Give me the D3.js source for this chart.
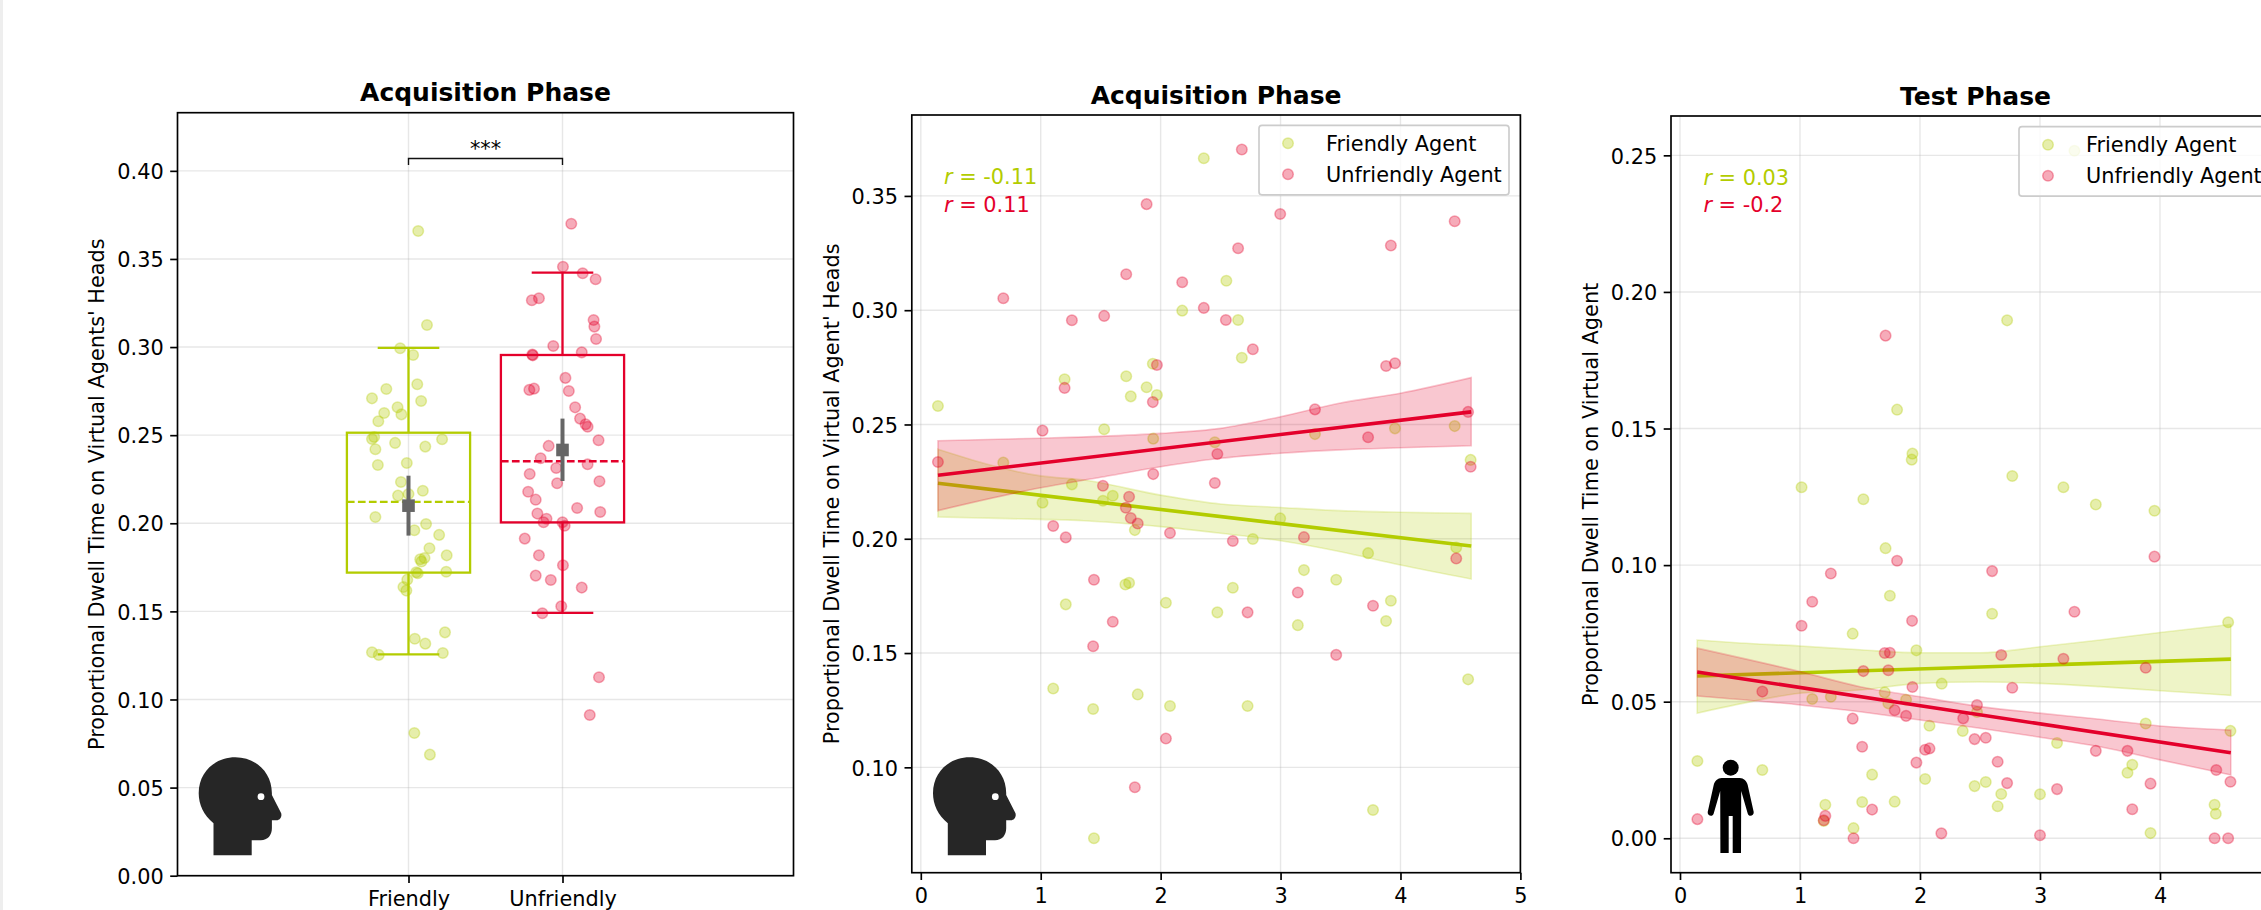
<!DOCTYPE html>
<html>
<head>
<meta charset="utf-8">
<script src="https://cdnjs.cloudflare.com/ajax/libs/d3/7.8.5/d3.min.js"></script>
<style>
html, body { margin: 0; padding: 0; background: #fff; overflow: hidden; }
svg text { font-family: "DejaVu Sans", sans-serif; fill: #000; }
</style>
</head>
<body>
<div id="chart"></div>
<script>
// box panel: [jitter, value]
const boxFriendly = [[.063,.3659],[.12,.3125],[-.054,.2993],[.03,.2955],[.057,.2789],[-.144,.2762],[-.237,.2709],[.082,.2694],[-.071,.2658],[-.158,.2626],[-.046,.2618],[-.196,.2579],[-.223,.249],[-.237,.2478],[-.087,.2456],[.218,.2477],[.109,.2435],[-.215,.242],[-.011,.2342],[-.199,.2331],[-.049,.2234],[.093,.2185],[0,.2166],[-.068,.2157],[-.215,.2036],[.114,.1996],[.038,.196],[.199,.1934],[.136,.1858],[.248,.1818],[.104,.1803],[.076,.1796],[.084,.1783],[.245,.1725],[.06,.1716],[.05,.1722],[-.008,.168],[-.033,.1638],[-.014,.1618],[.237,.1381],[.041,.1345],[.109,.1317],[-.237,.1268],[-.193,.1253],[.223,.1264],[.038,.081],[.139,.0687]];
const boxUnfriendly = [[.057,.37],[.003,.3456],[.131,.3419],[.215,.3385],[-.153,.3277],[-.199,.3266],[.202,.3154],[.207,.3116],[.218,.3046],[-.06,.3006],[.125,.297],[-.196,.2957],[-.193,.2953],[.019,.2825],[-.185,.2764],[-.215,.2757],[.041,.2751],[.082,.2658],[.114,.2594],[.15,.2562],[.163,.2548],[.234,.2471],[-.09,.2439],[-.142,.2369],[.163,.2335],[-.041,.2314],[-.213,.228],[.24,.2238],[-.035,.2227],[-.223,.2179],[-.174,.2134],[.095,.2087],[.245,.2064],[-.163,.2055],[-.104,.2026],[-.123,.2006],[0,.2006],[.014,.1986],[-.245,.1913],[-.153,.1818],[.003,.1762],[-.174,.1703],[-.076,.1678],[.125,.1635],[-.008,.1529],[-.131,.1489],[.237,.1126],[.177,.0912]];
const categories = ["Friendly", "Unfriendly"];
// q1, median, q3, whiskers, mean with its error bar
const boxStats = [
  { q1: .172, med: .2121, q3: .2514, lo: .1256, hi: .2995, mean: .21, meanLo: .193, meanHi: .227 },
  { q1: .2005, med: .2352, q3: .2955, lo: .1491, hi: .3422, mean: .2416, meanLo: .224, meanHi: .2594 }
];
const boxTicks = [0, .05, .1, .15, .2, .25, .3, .35, .4];

// acquisition scatter
const acqFriendly = [[2.36,.3665],[2.548,.3129],[2.18,.2998],[2.646,.2957],[2.677,.2792],[1.935,.2766],[1.713,.2711],[1.199,.2698],[1.883,.2663],[1.969,.2629],[1.751,.2623],[.143,.2581],[1.529,.2479],[3.954,.2483],[4.452,.2493],[1.938,.2438],[3.287,.2458],[2.452,.2422],[4.585,.2345],[.688,.2333],[1.26,.2238],[1.601,.2188],[1.519,.2166],[1.015,.2158],[2.997,.2089],[1.785,.2038],[2.769,.1999],[4.465,.1962],[3.73,.1937],[3.195,.1863],[3.464,.1821],[1.737,.1807],[1.706,.18],[2.602,.1786],[3.92,.1729],[2.044,.172],[1.209,.1713],[2.473,.1678],[3.88,.164],[3.144,.1622],[4.564,.1385],[1.104,.1345],[1.809,.1319],[2.078,.1268],[2.725,.1268],[1.437,.1255],[3.771,.0813],[1.444,.069]];
const acqUnfriendly = [[2.677,.3703],[1.883,.3464],[2.997,.3421],[4.452,.3389],[3.92,.3283],[2.646,.3271],[1.713,.3157],[2.18,.3122],[.688,.3052],[2.36,.301],[1.529,.2975],[1.26,.2956],[2.544,.2957],[2.769,.2829],[3.954,.2768],[3.88,.2756],[1.969,.276],[1.199,.266],[1.935,.2598],[3.287,.2566],[4.564,.2555],[1.015,.2473],[3.73,.2444],[2.473,.2371],[4.585,.2315],[.143,.2336],[1.938,.2283],[2.452,.2244],[1.519,.2232],[1.737,.2184],[1.71,.2136],[1.751,.2091],[1.809,.2067],[1.104,.2056],[2.078,.2025],[1.209,.2006],[2.602,.199],[3.195,.2007],[4.465,.1914],[1.444,.1821],[3.144,.1765],[3.771,.1707],[2.725,.1678],[1.601,.1637],[1.437,.153],[3.464,.1492],[2.044,.1126],[1.785,.0913]];
const acqLineFriendly = [[.143,.2243],[4.59,.1968]];
const acqLineUnfriendly = [[.143,.2278],[4.59,.2555]];
// x, lower, upper
const acqBandFriendly = [[.143,.2095,.2392],[1,.2085,.2275],[1.36,.2079,.2257],[2,.2053,.2191],[2.5,.2024,.2152],[3,.1991,.2137],[3.5,.1943,.2123],[4,.1885,.2116],[4.59,.1824,.2111]];
const acqBandUnfriendly = [[.143,.2123,.2429],[1,.2223,.244],[1.5,.2269,.2448],[2,.2315,.2461],[2.5,.2352,.2483],[3,.2374,.2534],[3.5,.2389,.2594],[4,.2398,.2637],[4.59,.2407,.2705]];
const acqTicks = [.1, .15, .2, .25, .3, .35];

// test scatter
const testFriendly = [[3.287,.2517],[2.726,.1896],[1.809,.1569],[1.937,.1408],[1.931,.1386],[2.769,.1326],[1.013,.1285],[3.195,.1285],[1.528,.1241],[3.465,.1222],[3.954,.1199],[1.713,.1062],[1.749,.0888],[2.601,.0822],[4.568,.0791],[1.439,.0749],[1.97,.0688],[2.181,.0566],[1.706,.0534],[1.257,.0518],[1.102,.051],[1.884,.0507],[1.736,.0494],[2.475,.0462],[3.881,.042],[2.079,.0412],[4.587,.0393],[2.356,.0393],[3.142,.0349],[.145,.0283],[.686,.025],[3.769,.0269],[3.729,.024],[1.601,.0233],[2.043,.0217],[2.548,.0206],[2.455,.0191],[2.677,.0162],[3,.0161],[1.518,.0133],[1.789,.0134],[1.211,.0123],[4.455,.0123],[2.647,.0117],[4.465,.009],[1.198,.0063],[1.446,.0037],[3.921,.0019]];
const testUnfriendly = [[1.713,.184],[1.809,.1016],[3.954,.1031],[2.601,.0978],[1.257,.0969],[1.102,.0866],[3.287,.0829],[1.934,.0796],[1.013,.0778],[1.706,.0678],[1.749,.0679],[2.677,.0671],[3.195,.0657],[3.881,.0624],[1.528,.0612],[1.736,.0615],[1.937,.0554],[2.769,.0551],[.686,.0537],[2.475,.0488],[1.789,.0469],[1.884,.0448],[2.36,.0439],[1.439,.0438],[2.548,.0368],[2.455,.0363],[2.079,.0329],[2.043,.0324],[1.518,.0335],[3.465,.032],[3.729,.032],[1.97,.0277],[2.647,.028],[4.469,.025],[4.587,.0207],[2.726,.0202],[3.921,.02],[3.142,.018],[1.601,.0105],[3.769,.0106],[.145,.007],[1.211,.0082],[1.198,.0066],[2.178,.0018],[3,.0011],[1.446,0],[4.455,0],[4.568,0]];
const testLineFriendly = [[.143,.0594],[4.59,.0656]];
const testLineUnfriendly = [[.143,.0609],[4.59,.0313]];
const testBandFriendly = [[.143,.0458,.0726],[.5,.0492,.0715],[1,.0531,.0704],[1.5,.0543,.069],[2,.0567,.0679],[2.5,.0572,.0679],[3,.0567,.0701],[3.5,.0555,.0726],[4,.054,.0753],[4.59,.0523,.0783]];
const testBandUnfriendly = [[.143,.0521,.0696],[1,.0488,.061],[1.5,.0463,.0555],[2,.0433,.0518],[2.5,.0403,.0482],[3,.037,.0458],[3.5,.0335,.0436],[4,.0287,.0411],[4.59,.0232,.0396]];
const testTicks = [0, .05, .1, .15, .2, .25];

const acqXTicks = [0, 1, 2, 3, 4, 5];
const testXTicks = [0, 1, 2, 3, 4];  // 5 falls off the right edge of the page
const legendLabels = ["Friendly Agent", "Unfriendly Agent"];

const green = "#b3cc00";
const red = "#e4002b";
const fontSize = 20.83;

const svg = d3.select("#chart").append("svg")
    .attr("width", 2261)
    .attr("height", 910);

// strip on the left edge of the picture
svg.append("rect").attr("x", 0).attr("y", 0).attr("width", 3).attr("height", 910).attr("fill", "#eeeeee");

const headPath = "M14.8,98 L14.8,66 C5,58 0,47 0,36 C0,14 17,0 36.6,0 C57,0 73.2,15 73.2,36 L73.2,37.7 L82.5,56 C83.5,60 81,63 78,63 L73.2,63 L73.2,71 C73.2,78 69,83 62,83 L53,83 L53,98 Z";
const personPath = "M-9,0 L9,0 C13,0 16,3 17,7 L23,34 C23.5,38 18,39.5 17,35.5 L10.5,13 L10.3,75 L2,75 L2,38 L-2,38 L-2,75 L-10.3,75 L-10.5,13 L-17,35.5 C-18,39.5 -23.5,38 -23,34 L-17,7 C-16,3 -13,0 -9,0 Z";

function frame(box, x, y, xTicks, yTicks, xFormat, title, ylabel, labelX) {
    const g = svg.append("g");
    const clipId = "clip" + Math.round(box.left);
    g.append("clipPath").attr("id", clipId).append("rect")
        .attr("x", box.left).attr("y", box.top)
        .attr("width", box.right - box.left).attr("height", box.bottom - box.top);

    // grid
    g.append("g").selectAll("line").data(yTicks).join("line")
        .attr("x1", box.left).attr("x2", box.right)
        .attr("y1", d => y(d)).attr("y2", d => y(d))
        .attr("stroke", "#b0b0b0").attr("stroke-opacity", 0.3).attr("stroke-width", 1.4);
    g.append("g").selectAll("line").data(xTicks).join("line")
        .attr("x1", d => x(d)).attr("x2", d => x(d))
        .attr("y1", box.top).attr("y2", box.bottom)
        .attr("stroke", "#b0b0b0").attr("stroke-opacity", 0.3).attr("stroke-width", 1.4);

    const layer = g.append("g").attr("clip-path", `url(#${clipId})`);

    // axes and spines go on top, added by finish()
    function finish() {
        const ax = svg.append("g");
        const xAxis = d3.axisBottom(x).tickValues(xTicks).tickFormat(xFormat).tickSize(7.3).tickPadding(8);
        const yAxis = d3.axisLeft(y).tickValues(yTicks).tickFormat(d3.format(".2f")).tickSize(7.3).tickPadding(6.5);
        const yG = ax.append("g").attr("transform", `translate(${box.left},0)`).call(yAxis)
            .call(s => s.select(".domain").remove());
        yG.selectAll(".tick text").attr("dy", "0.37em");
        ax.append("g").attr("transform", `translate(0,${box.bottom})`).call(xAxis)
            .call(s => s.select(".domain").remove());
        ax.selectAll(".tick line").attr("stroke", "#000").attr("stroke-width", 1.67);
        ax.selectAll(".tick text").attr("font-size", fontSize).attr("fill", "#000")
            .style("font-family", '"DejaVu Sans", sans-serif');
        ax.append("rect")
            .attr("x", box.left).attr("y", box.top)
            .attr("width", box.right - box.left).attr("height", box.bottom - box.top)
            .attr("fill", "none").attr("stroke", "#000").attr("stroke-width", 1.67);
        ax.append("text")
            .attr("x", (box.left + box.right) / 2).attr("y", box.top - 11.5)
            .attr("text-anchor", "middle").attr("font-weight", "bold").attr("font-size", 25)
            .text(title);
        ax.append("text")
            .attr("transform", `translate(${labelX},${(box.top + box.bottom) / 2}) rotate(-90)`)
            .attr("text-anchor", "middle").attr("font-size", fontSize)
            .text(ylabel);
    }
    return { layer, finish };
}

function dots(layer, data, x, y, color) {
    layer.append("g").selectAll("circle").data(data).join("circle")
        .attr("cx", d => x(d[0])).attr("cy", d => y(d[1])).attr("r", 5.3)
        .attr("fill", color).attr("fill-opacity", 0.33)
        .attr("stroke", color).attr("stroke-opacity", 0.33).attr("stroke-width", 1.5);
}

function regression(layer, band, line, x, y, color) {
    const area = d3.area().x(d => x(d[0])).y0(d => y(d[1])).y1(d => y(d[2])).curve(d3.curveMonotoneX);
    layer.append("path").attr("d", area(band))
        .attr("fill", color).attr("fill-opacity", 0.22)
        .attr("stroke", color).attr("stroke-opacity", 0.22).attr("stroke-width", 1.6);
    layer.append("path").attr("d", d3.line().x(d => x(d[0])).y(d => y(d[1]))(line))
        .attr("fill", "none").attr("stroke", color).attr("stroke-width", 3.6);
}

function legend(px, py, width) {
    const g = svg.append("g");
    g.append("rect").attr("x", px).attr("y", py).attr("width", width).attr("height", 69.5).attr("rx", 3)
        .attr("fill", "#fff").attr("fill-opacity", 0.8)
        .attr("stroke", "#ccc").attr("stroke-width", 1.67);
    [green, red].forEach((c, i) => {
        const rowY = py + 18 + i * 31;
        g.append("circle").attr("cx", px + 29).attr("cy", rowY).attr("r", 5.3)
            .attr("fill", c).attr("fill-opacity", 0.33)
            .attr("stroke", c).attr("stroke-opacity", 0.33).attr("stroke-width", 1.5);
        g.append("text").attr("x", px + 67).attr("y", rowY + 7.5).attr("font-size", fontSize).text(legendLabels[i]);
    });
}

function rLabel(px, py, color, value) {
    const t = svg.append("text").attr("x", px).attr("y", py).attr("font-size", fontSize).style("fill", color);
    t.append("tspan").attr("font-style", "italic").style("fill", color).text("r");
    t.append("tspan").style("fill", color).text(" = " + value);
}

// ---------- panel 1: box plot ----------
const box1 = { left: 177.5, right: 793.5, top: 112.7, bottom: 875.7 };
const x1 = d3.scaleLinear().domain([-1.5, 2.5]).range([box1.left, box1.right]);
const y1 = d3.scaleLinear().domain([0, 0.433]).range([box1.bottom, box1.top]);
const p1 = frame(box1, x1, y1, [0, 1], boxTicks, i => categories[i], "Acquisition Phase",
    "Proportional Dwell Time on Virtual Agents' Heads", 104);

dots(p1.layer, boxFriendly, x1, y1, green);
dots(p1.layer, boxUnfriendly.map(d => [1 + d[0], d[1]]), x1, y1, red);

boxStats.forEach((s, i) => {
    const c = i === 0 ? green : red;
    const g = p1.layer.append("g").attr("stroke", c).attr("stroke-width", 2.3).attr("fill", "none");
    g.append("rect").attr("x", x1(i - .4)).attr("width", x1(.4) - x1(-.4))
        .attr("y", y1(s.q3)).attr("height", y1(s.q1) - y1(s.q3));
    g.append("line").attr("x1", x1(i - .4)).attr("x2", x1(i + .4))
        .attr("y1", y1(s.med)).attr("y2", y1(s.med)).attr("stroke-dasharray", "7.7,3.3");
    [[s.q3, s.hi], [s.q1, s.lo]].forEach(w => {
        g.append("line").attr("x1", x1(i)).attr("x2", x1(i)).attr("y1", y1(w[0])).attr("y2", y1(w[1]));
        g.append("line").attr("x1", x1(i - .2)).attr("x2", x1(i + .2)).attr("y1", y1(w[1])).attr("y2", y1(w[1]));
    });
    p1.layer.append("line").attr("x1", x1(i)).attr("x2", x1(i))
        .attr("y1", y1(s.meanLo)).attr("y2", y1(s.meanHi))
        .attr("stroke", "#666").attr("stroke-width", 4);
    p1.layer.append("rect").attr("x", x1(i) - 6.3).attr("y", y1(s.mean) - 6.3)
        .attr("width", 12.6).attr("height", 12.6).attr("fill", "#666");
});

// significance bracket
p1.layer.append("path")
    .attr("d", `M${x1(0)},${y1(.4033)} L${x1(0)},${y1(.407)} L${x1(1)},${y1(.407)} L${x1(1)},${y1(.4033)}`)
    .attr("fill", "none").attr("stroke", "#111").attr("stroke-width", 1.4);
p1.layer.append("text").attr("x", x1(.5)).attr("y", y1(.407) - 3)
    .attr("text-anchor", "middle").attr("font-size", fontSize).text("***");
p1.finish();

// ---------- panel 2 ----------
const box2 = { left: 911.8, right: 1520.4, top: 115, bottom: 872.7 };
const x2 = d3.scaleLinear().domain([-.075, 5]).range([box2.left, box2.right]);
const y2 = d3.scaleLinear().domain([.0539, .3854]).range([box2.bottom, box2.top]);
const p2 = frame(box2, x2, y2, acqXTicks, acqTicks, d3.format("d"), "Acquisition Phase",
    "Proportional Dwell Time on Virtual Agent' Heads", 838.5);
dots(p2.layer, acqFriendly, x2, y2, green);
regression(p2.layer, acqBandFriendly, acqLineFriendly, x2, y2, green);
dots(p2.layer, acqUnfriendly, x2, y2, red);
regression(p2.layer, acqBandUnfriendly, acqLineUnfriendly, x2, y2, red);
p2.finish();
legend(1259, 125.3, 250);
rLabel(944, 184, green, "-0.11");
rLabel(944, 211.5, red, "0.11");

// ---------- panel 3 ----------
const box3 = { left: 1671, right: 2280, top: 116, bottom: 872.7 };
const x3 = d3.scaleLinear().domain([-.075, 5]).range([box3.left, box3.right]);
const y3 = d3.scaleLinear().domain([-.0126, .2644]).range([box3.bottom, box3.top]);
const p3 = frame(box3, x3, y3, testXTicks, testTicks, d3.format("d"), "Test Phase",
    "Proportional Dwell Time on Virtual Agent", 1598);
dots(p3.layer, testFriendly, x3, y3, green);
regression(p3.layer, testBandFriendly, testLineFriendly, x3, y3, green);
dots(p3.layer, testUnfriendly, x3, y3, red);
regression(p3.layer, testBandUnfriendly, testLineUnfriendly, x3, y3, red);
p3.finish();
legend(2019, 126.7, 250);
rLabel(1703.4, 184.5, green, "0.03");
rLabel(1703.4, 212, red, "-0.2");

// ---------- icons ----------
[[198.7, 757.3], [933, 757.3]].forEach(p => {
    const icon = svg.append("g").attr("transform", `translate(${p[0]},${p[1]})`);
    icon.append("path").attr("d", headPath).attr("fill", "#262626");
    icon.append("circle").attr("cx", 62.3).attr("cy", 39.4).attr("r", 3.4).attr("fill", "#fff");
});
const person = svg.append("g").attr("transform", "translate(1730.7,778)");
person.append("circle").attr("cx", 0).attr("cy", -10.3).attr("r", 8).attr("fill", "#000");
person.append("path").attr("d", personPath).attr("fill", "#000");
</script>
</body>
</html>
